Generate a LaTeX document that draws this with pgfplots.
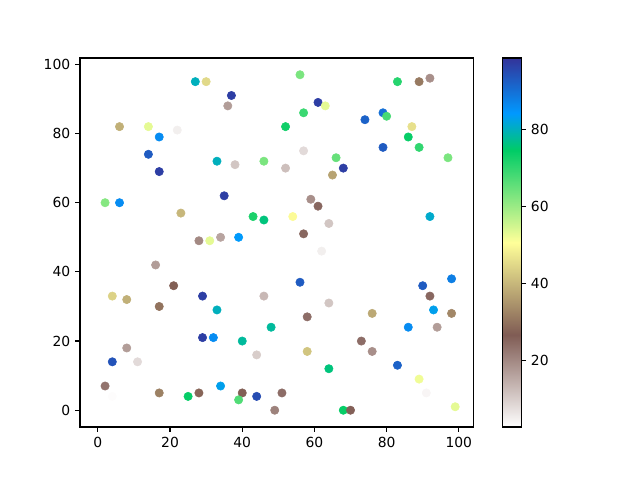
\documentclass[border=0pt]{standalone}
\usepackage{pgfplots}
\pgfplotsset{compat=1.18}
\usepackage{fontspec}
\setmainfont{DejaVu Sans}
\pgfplotsset{colormap={terrainr}{[1pt] rgb(0pt)=(1,1,1) rgb(5pt)=(0.5,0.36,0.33) rgb(10pt)=(1,1,0.6) rgb(15pt)=(0,0.8,0.4) rgb(17pt)=(0,0.6,1) rgb(20pt)=(0.2,0.2,0.6)}}
\begin{document}
\begin{tikzpicture}
\begin{axis}[
  at={(0,0)}, anchor=south west,
  scale only axis, width=283pt, height=265.7pt,
  xmin=-4.95, xmax=103.95, ymin=-4.85, ymax=101.85,
  xtick={0,20,40,60,80,100}, ytick={0,20,40,60,80,100},
  tick align=outside, tick pos=left,
  major tick length=3.5pt,
  axis line style={line width=0.8pt},
  every tick/.style={line width=0.8pt, black},
  tick label style={font=\fontsize{10}{12}\selectfont},
  /pgf/number format/assume math mode=true,
  colormap name=terrainr,
  point meta min=2.6, point meta max=98.6,
  colorbar,
  colorbar style={
    at={(parent axis.north east)}, anchor=north west, xshift=12.9pt,
    width=13.2pt, height=265.7pt,
    ytick={20,40,60,80},
    ytick pos=right, yticklabel pos=right,
    tick align=outside,
    major tick length=3.5pt,
    axis line style={line width=0.8pt},
    every tick/.style={line width=0.8pt, black},
    tick label style={font=\fontsize{10}{12}\selectfont},
    /pgf/number format/assume math mode=true,
  },
]
\addplot[scatter, only marks, mark=*, mark size=3pt,
  scatter src=explicit,
  scatter/use mapped color={draw=mapped color, fill=mapped color}]
  table[x=x, y=y, meta=c] {
x y c
27 95 80
30 95 45
37 91 97
36 88 17
6 82 39
14 82 53
22 81 5
17 79 86
14 74 93
17 69 97
33 72 80
38 71 11
46 72 63
2 60 62
6 60 86
35 62 97
23 57 40
43 56 72
46 55 76
28 49 20
31 49 53
34 50 16
39 50 84
56 97 63
83 95 71
89 95 31
92 96 19
61 89 97
63 88 53
57 86 69
52 82 73
74 84 92
79 86 90
80 85 68
87 82 46
86 79 74
89 76 70
79 76 93
57 75 8
66 73 65
97 73 63
52 70 12
68 70 97
65 68 37
59 61 19
61 59 25
54 56 50
64 54 11
57 51 25
92 56 81
16 42 17
21 36 27
4 33 44
8 32 39
17 30 30
29 33 97
46 33 13
33 29 80
48 24 78
29 21 97
32 21 86
40 20 78
44 16 10
8 18 17
4 14 94
11 14 8
2 7 23
4 4 3
17 5 32
25 4 74
28 5 28
34 7 83
40 5 27
39 3 67
44 4 95
49 0 21
62 46 5
56 37 93
64 31 11
58 27 24
76 28 38
58 17 42
64 12 76
73 20 24
76 17 19
51 5 24
68 0 74
70 0 26
83 13 92
86 24 86
89 9 52
91 5 4
99 1 53
90 36 93
92 33 25
93 29 83
94 24 17
98 38 88
98 28 33
};
\end{axis}
\path[use as bounding box] (-57.6pt,-38.16pt) rectangle (403.2pt,307.44pt);
\end{tikzpicture}
\end{document}
